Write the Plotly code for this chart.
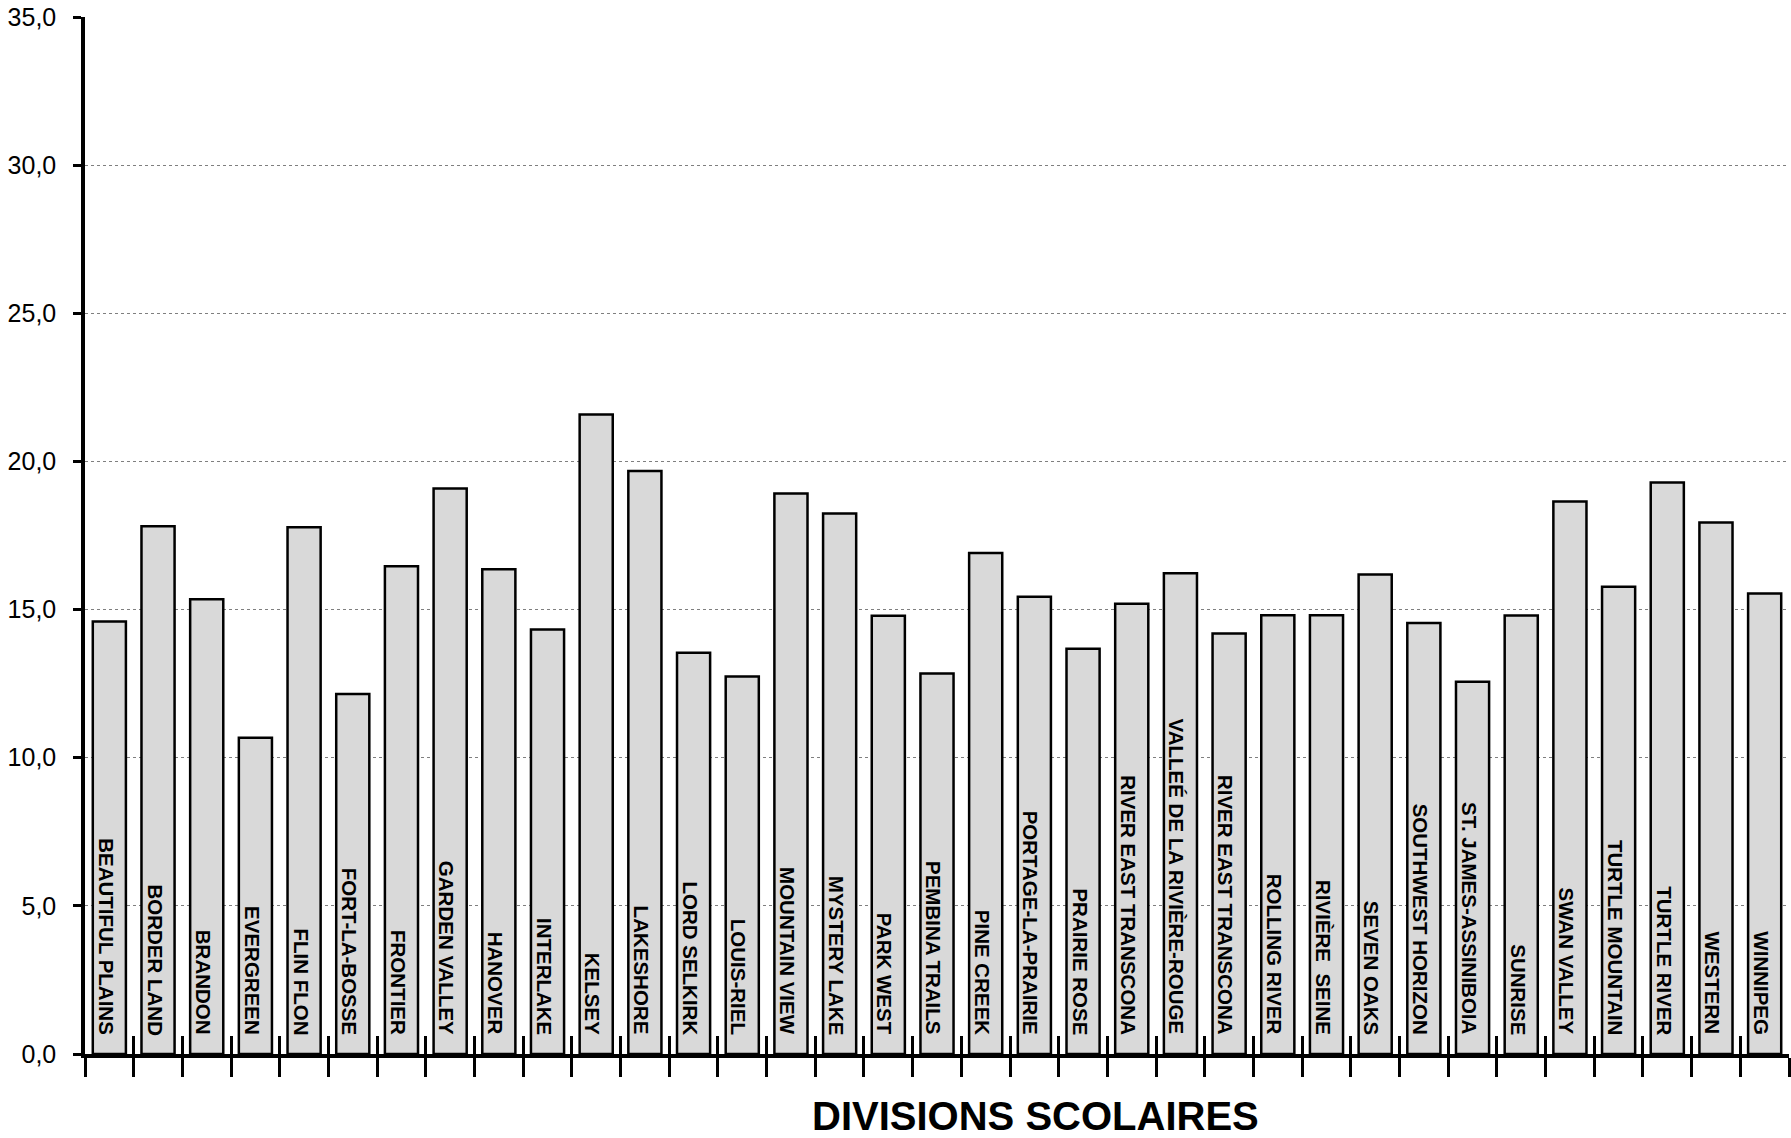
import plotly.graph_objects as go

divisions = [
    "BEAUTIFUL PLAINS", "BORDER LAND", "BRANDON", "EVERGREEN", "FLIN FLON",
    "FORT-LA-BOSSE", "FRONTIER", "GARDEN VALLEY", "HANOVER", "INTERLAKE",
    "KELSEY", "LAKESHORE", "LORD SELKIRK", "LOUIS-RIEL", "MOUNTAIN VIEW",
    "MYSTERY LAKE", "PARK WEST", "PEMBINA TRAILS", "PINE CREEK", "PORTAGE-LA-PRAIRIE",
    "PRAIRIE ROSE", "RIVER EAST TRANSCONA", "VALLEÉ DE LA RIVIÈRE-ROUGE", "RIVER EAST TRANSCONA",
    "ROLLING RIVER", "RIVIÈRE\u00a0 SEINE", "SEVEN OAKS", "SOUTHWEST HORIZON",
    "ST. JAMES-ASSINIBOIA", "SUNRISE", "SWAN VALLEY", "TURTLE MOUNTAIN",
    "TURTLE RIVER", "WESTERN", "WINNIPEG",
]
values = [
    14.60, 17.81, 15.35, 10.67, 17.78,
    12.15, 16.46, 19.09, 16.36, 14.33,
    21.58, 19.68, 13.54, 12.74, 18.92,
    18.24, 14.79, 12.84, 16.91, 15.43,
    13.68, 15.20, 16.23, 14.19,
    14.81, 14.81, 16.18, 14.55,
    12.56, 14.80, 18.65, 15.77,
    19.29, 17.94, 15.54,
]
y_ticks = [0, 5, 10, 15, 20, 25, 30, 35]
x_title = "DIVISIONS SCOLAIRES"

FONT = "Liberation Sans, Arial, sans-serif"
n = len(divisions)
xs = list(range(n))
boundaries = [i - 0.5 for i in range(n + 1)]

fig = go.Figure()
fig.add_trace(go.Bar(
    x=xs, y=values, width=0.68,
    marker=dict(color="#D9D9D9", line=dict(color="black", width=2.5)),
    showlegend=False, hoverinfo="skip",
))
# invisible trace to host the overlaid axis with upward ticks
fig.add_trace(go.Scatter(x=[xs[0]], y=[0], xaxis="x2", mode="markers",
                         marker=dict(opacity=0), showlegend=False, hoverinfo="skip"))

for i, name in enumerate(divisions):
    fig.add_annotation(
        x=i, y=0, xref="x", yref="y", text=name, showarrow=False,
        textangle=90, yanchor="bottom", xanchor="center", yshift=17, xshift=-3,
        font=dict(family=FONT, size=20.5, color="black", weight="bold"),
    )

fig.add_annotation(
    x=0.558, y=0, xref="paper", yref="paper", text=x_title, showarrow=False,
    yanchor="middle", xanchor="center", yshift=-62,
    font=dict(family=FONT, size=40, color="black", weight="bold"),
)

fig.update_layout(
    width=1791, height=1138,
    margin=dict(l=85, r=2, t=17, b=84, autoexpand=False),
    plot_bgcolor="white", paper_bgcolor="white",
    separators=", ",
    bargap=0.32,
    font=dict(family=FONT, color="black"),
    xaxis=dict(
        range=[-0.5, n - 0.5], tickvals=boundaries, showticklabels=False,
        ticks="outside", ticklen=19, tickwidth=2.5, tickcolor="black", automargin=False,
        showline=True, linewidth=3.5, linecolor="black", showgrid=False, zeroline=False,
    ),
    xaxis2=dict(
        overlaying="x", anchor="y", matches="x", range=[-0.5, n - 0.5],
        tickvals=boundaries, showticklabels=False, automargin=False,
        ticks="inside", ticklen=18, tickwidth=2.5, tickcolor="black",
        showline=False, showgrid=False, zeroline=False,
    ),
    yaxis=dict(
        range=[0, 35], tickvals=y_ticks, tickformat=".1f", automargin=False,
        ticks="outside", ticklen=8, tickwidth=2.5, tickcolor="black",
        showline=True, linewidth=3.5, linecolor="black",
        showgrid=True, gridcolor="#7f7f7f", gridwidth=1, griddash="dot",
        zeroline=False, ticklabelstandoff=12, ticklabeloverflow="allow",
        tickfont=dict(family=FONT, size=25, color="black"),
    ),
)

fig.write_html("out.html", config={"displayModeBar": False},
               post_script="document.body.style.margin='0px';")
